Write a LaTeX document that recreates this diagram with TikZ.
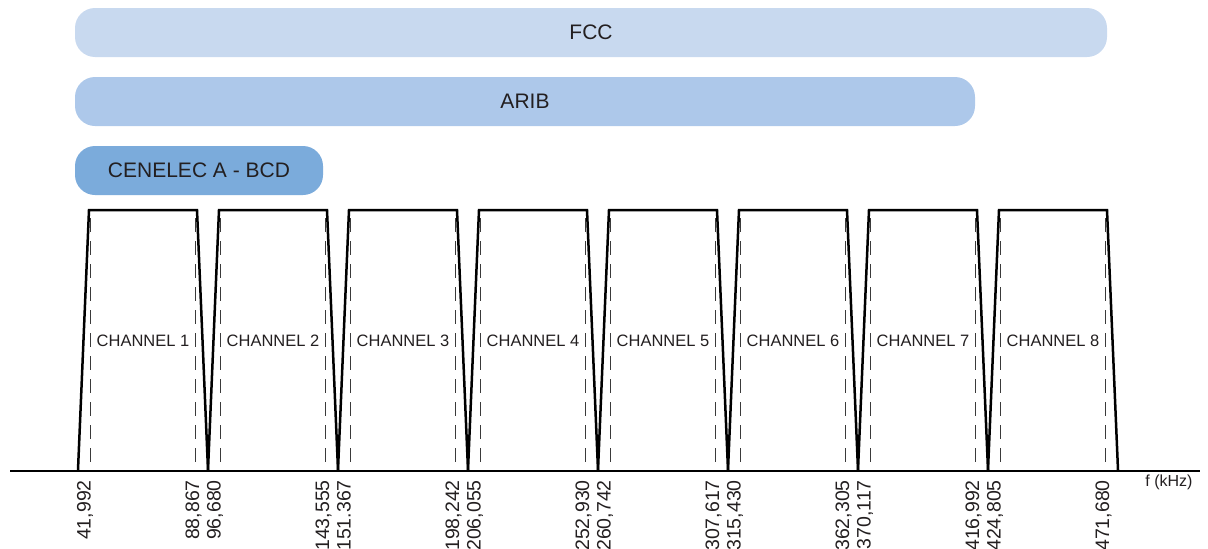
\documentclass[tikz,border=0pt]{standalone}
\usepackage{fontspec}
\setmainfont{Liberation Sans}
\definecolor{fccc}{HTML}{C8D9EF}
\definecolor{aribc}{HTML}{ADC8EA}
\definecolor{cenc}{HTML}{7BABDB}
\definecolor{txtc}{HTML}{231F20}
\definecolor{dashc}{HTML}{3A3A3A}
\begin{document}
\begin{tikzpicture}[x=1pt,y=-1pt,
  bar/.style={rectangle, rounded corners=20pt, inner sep=0pt, text=txtc,
    font=\fontsize{21}{21}\selectfont, minimum height=49pt},
  chanline/.style={line width=2.5pt, line join=miter, black},
  guide/.style={dashc, line width=1pt, dash pattern=on 14pt off 9pt},
  chanlabel/.style={inner sep=0pt, text=txtc, font=\fontsize{16.5}{16.5}\selectfont},
  freq/.style={rotate=90, anchor=east, inner sep=0pt, text=txtc,
    text height=0.716em, text depth=0pt, font=\fontsize{19.5}{19.5}\selectfont},
  axislabel/.style={inner sep=0pt, text=txtc, font=\fontsize{16}{16}\selectfont}]
\useasboundingbox (0,0) rectangle (1208,549);

% bars
\node[bar, fill=fccc, minimum width=1032pt] (fcc) at (591,32.5) {FCC};
\node[bar, fill=aribc, minimum width=900pt] (arib) at (525,101.5) {ARIB};
\node[bar, fill=cenc, minimum width=248pt] (cen) at (199,170.5) {CENELEC A - BCD};

% channels
\foreach \k in {1,...,8} {
  \pgfmathsetmacro{\s}{78+130*(\k-1)}
  \draw[guide] (\s+12.5,218) -- (\s+12.5,470);
  \draw[guide] (\s+117.5,218) -- (\s+117.5,470);
  \draw[chanline] (\s,470) -- (\s+11,210) -- (\s+119,210) -- (\s+130,470);
  \node[chanlabel] (ch\k) at (\s+65,341) {CHANNEL \k};
}

% axis
\draw[line width=2pt, black] (10,470.5) -- (1200,470.5);
\node[axislabel] (fk) at (1169,482) {f (kHz)};

% frequency labels
\foreach \x/\t [count=\i] in {87/{41,992},195.5/{88,867},217/{96,680},325.5/{143,555},347/{151.367},455.5/{198,242},477/{206,055},585.5/{252,930},607/{260,742},715.5/{307,617},737/{315,430},845.5/{362,305},867/{370,117},975.5/{416,992},997/{424,805},1105.5/{471,680}} {
  \node[freq] (f\i) at (\x,480) {\t};
}
\end{tikzpicture}
\end{document}
